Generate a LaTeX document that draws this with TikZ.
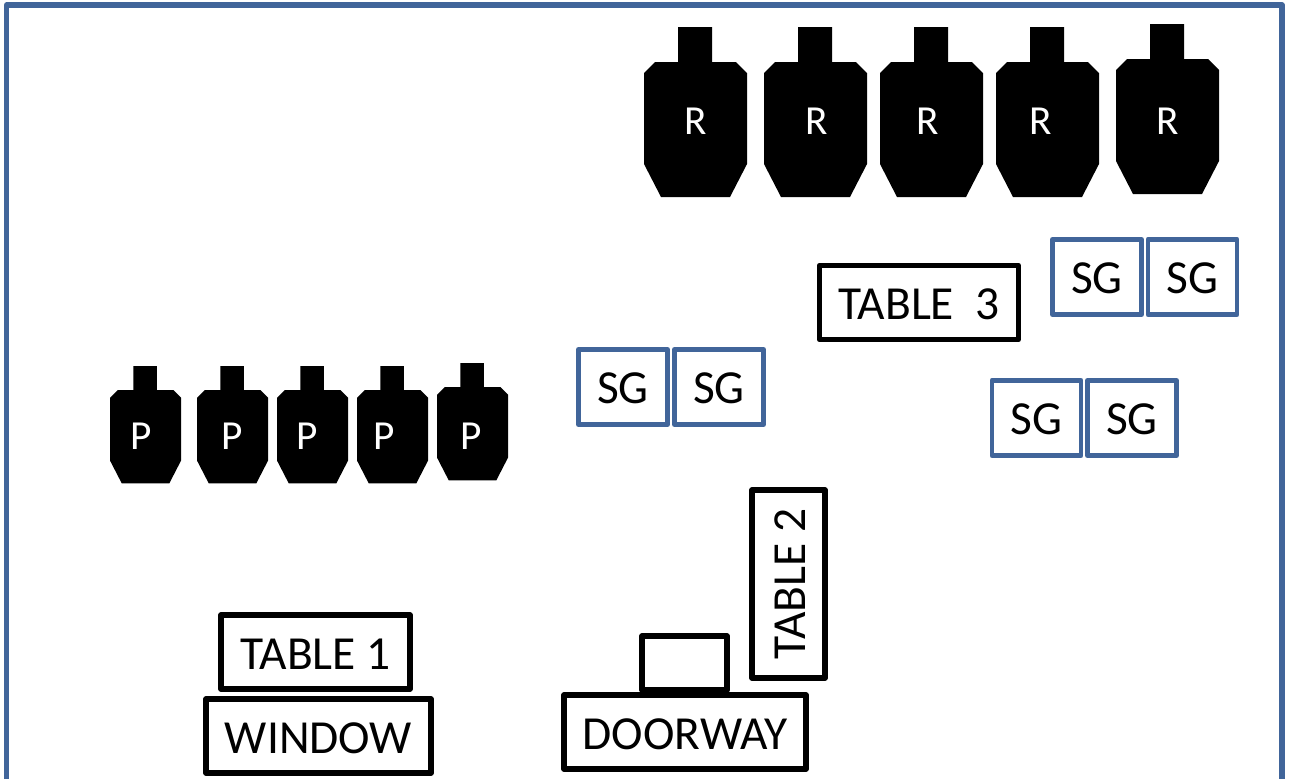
\documentclass[tikz,border=0pt]{standalone}
\usepackage{fontspec}
\setmainfont{Carlito}
\definecolor{framecolor}{HTML}{41659A}
\tikzset{
    target/.pic={
        \fill[black] (34,0) -- (68,0) -- (68,35) -- (92,35) -- (103,46) -- (103,137)
            -- (86,170) -- (17,170) -- (0,137) -- (0,46) -- (11,35) -- (34,35) -- cycle;
    },
}
\begin{document}
\begin{tikzpicture}[
    x=0.02cm, y=-0.02cm,
    every node/.style={align=center, font=\fontsize{27}{29}\selectfont},
    room/.style={draw=framecolor, line width=2.9pt, line join=round},
    targetlabel/.style={text=white, inner sep=0pt, font=\fontsize{23.5}{25}\selectfont},
    plainbox/.style={draw=black, line width=3pt, line join=round, inner sep=0pt, text height=0.68cm, text depth=0pt},
    sgbox/.style={draw=framecolor, line width=2.8pt, line join=round, inner sep=0pt, text height=0.65cm, text depth=0pt, minimum width=1.78cm, minimum height=1.5cm},
    ]
\useasboundingbox (0,0) rectangle (1289,779);
\draw[room] (6.5,779) |- (1282,5) -- (1282,779);
% rifle targets
\foreach \i/\tx/\ty/\lx in {1/644/27/696,2/764/27/817,3/880/27/928,4/996/27/1041,5/1116/24/1168} {
    \pic at (\tx,\ty) {target};
    \node[targetlabel] (R\i) at (\lx,121) {R};
}
% pistol targets
\foreach \i/\tx/\ty/\lx in {1/110/366/141,2/197/366/232,3/277/366/307,4/357/366/384,5/437/363/471} {
    \pic[scale=0.69] at (\tx,\ty) {target};
    \node[targetlabel] (P\i) at (\lx,436) {P};
}
% shotguns
\node[sgbox] (SGa) at (1097,277) {SG};
\node[sgbox] (SGb) at (1192.5,277) {SG};
\node[sgbox] (SGc) at (1036.5,418) {SG};
\node[sgbox] (SGd) at (1132,418) {SG};
\node[sgbox] (SGe) at (623,387) {SG};
\node[sgbox] (SGf) at (719,387) {SG};
% furniture
\node[plainbox, minimum width=3.98cm, minimum height=1.48cm] (table3) at (919,302.5) {TABLE\ \ 3};
\node[plainbox, minimum width=3.78cm, minimum height=1.48cm] (table1) at (315.5,652) {TABLE 1};
\node[plainbox, minimum width=4.5cm, minimum height=1.48cm] (window) at (318.5,736) {WINDOW};
\node[plainbox, minimum width=4.84cm, minimum height=1.48cm] (doorway) at (685,732) {DOORWAY};
\node[plainbox, minimum width=1.7cm, minimum height=1.08cm, text height=0pt] (door) at (684.5,663) {};
\node[plainbox, rotate=90, minimum width=3.76cm, minimum height=1.46cm] (table2) at (788.5,584) {TABLE 2};
\end{tikzpicture}
\end{document}
